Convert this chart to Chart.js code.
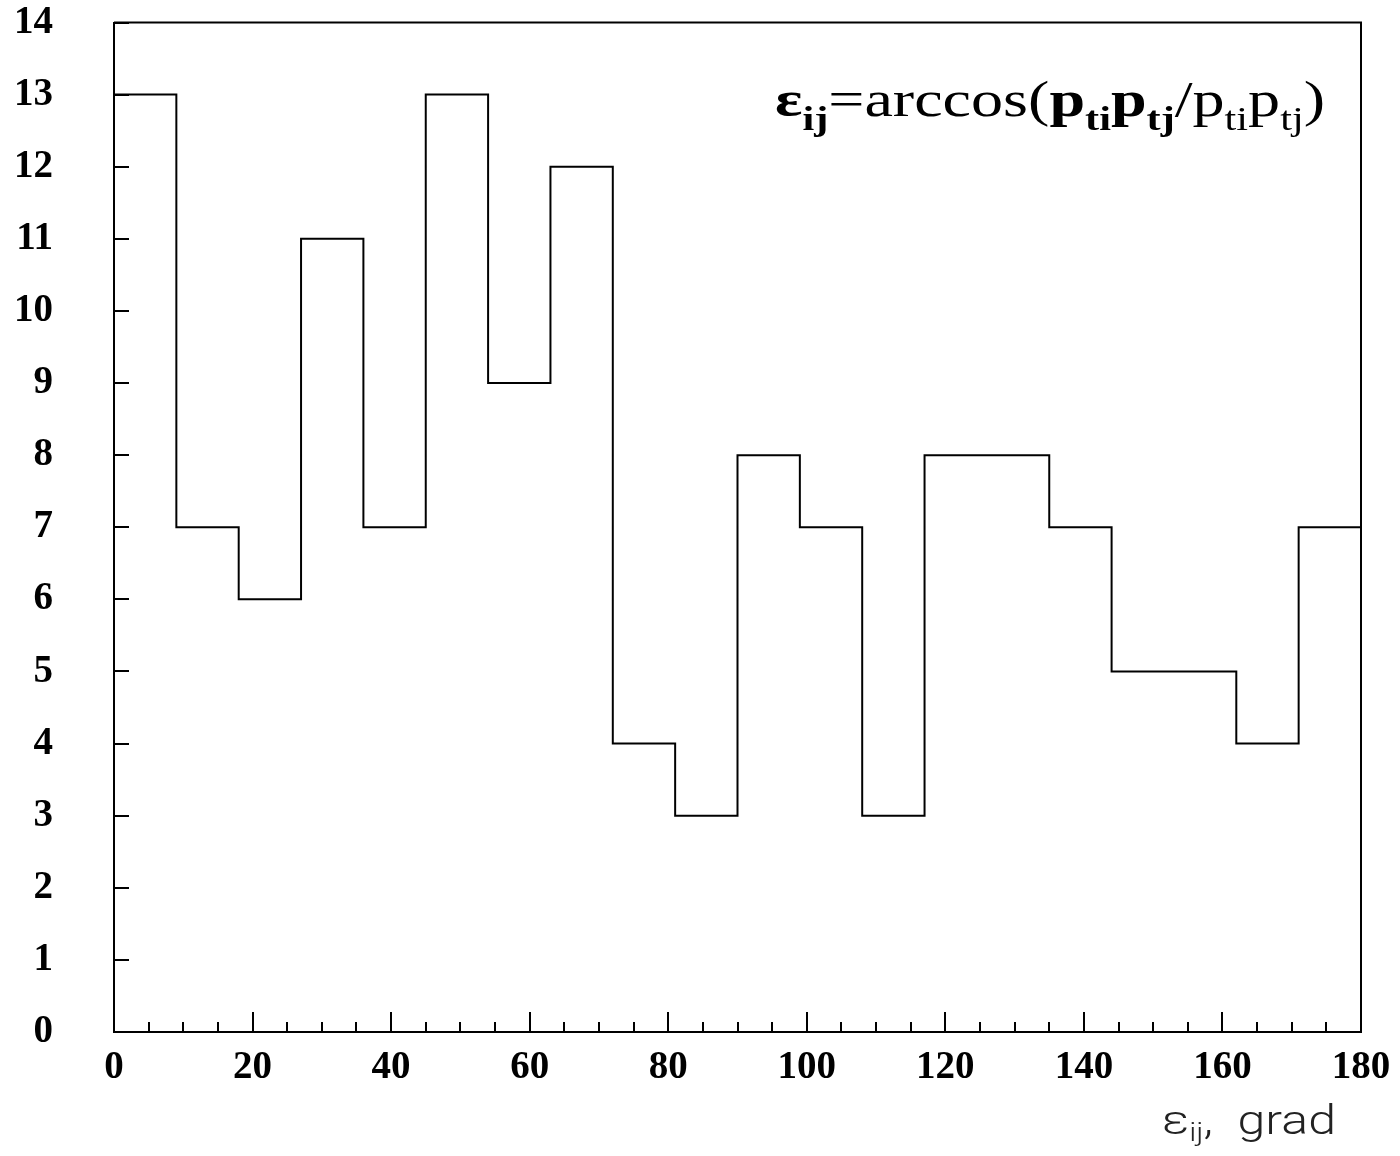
<!DOCTYPE html>
<html>
<head>
<meta charset="utf-8">
<script src="https://cdn.jsdelivr.net/npm/chart.js@4.4.1/dist/chart.umd.min.js"></script>
<style>
  html, body { margin: 0; padding: 0; background: #fff; }
  #wrap { width: 1400px; height: 1156px; }
</style>
</head>
<body>
<div id="wrap"><canvas id="hist"></canvas></div>
<script>
  // bin edges (degrees) and counts per bin
  const binEdges = [0, 9, 18, 27, 36, 45, 54, 63, 72, 81, 90, 99, 108, 117, 126, 135, 144, 153, 162, 171, 180];
  const binCounts = [13, 7, 6, 11, 7, 13, 9, 12, 4, 3, 8, 7, 3, 8, 8, 7, 5, 5, 4, 7];
  const xTickLabels = [0, 20, 40, 60, 80, 100, 120, 140, 160, 180];
  const yTickLabels = [0, 1, 2, 3, 4, 5, 6, 7, 8, 9, 10, 11, 12, 13, 14];

  const labelFont = { family: 'Liberation Serif', size: 39, weight: 'bold', lineHeight: 1.0 };

  // step points: last edge repeats the last count so the top of the final bin is drawn
  const stepPoints = binEdges.map((e, i) => ({ x: e, y: binCounts[Math.min(i, binCounts.length - 1)] }));

  // frame + inward ticks, the way the original plot has them
  const frameTicks = {
    id: 'frameTicks',
    afterDraw(chart) {
      const { ctx, chartArea: a, scales: { x, y } } = chart;
      ctx.save();
      ctx.strokeStyle = '#000';
      ctx.lineWidth = 2;
      ctx.beginPath();
      ctx.moveTo(a.left, a.top); ctx.lineTo(a.right, a.top); ctx.lineTo(a.right, a.bottom);
      for (let v = 0; v <= 180; v += 5) {
        const px = Math.round(x.getPixelForValue(v));
        const len = v % 20 === 0 ? 20 : 10;
        ctx.moveTo(px, a.bottom); ctx.lineTo(px, a.bottom - len);
      }
      yTickLabels.forEach(v => {
        const py = Math.round(y.getPixelForValue(v));
        ctx.moveTo(a.left, py); ctx.lineTo(a.left + 15, py);
      });
      ctx.stroke();
      ctx.restore();
    }
  };

  // text runs with subscripts, stretched horizontally to fill a given width
  function drawRuns(ctx, runs, x0, width, base, size, subSize, subDrop, family, weight) {
    const fontOf = r => (r.bold ? 'bold ' : weight + ' ') + (r.sub ? subSize : size) + 'px ' + family;
    let natural = 0;
    runs.forEach(r => { ctx.font = fontOf(r); natural += ctx.measureText(r.t).width; });
    const sx = width / natural;
    ctx.save();
    ctx.translate(x0, base);
    ctx.scale(sx, 1);
    let cx = 0;
    runs.forEach(r => {
      ctx.font = fontOf(r);
      ctx.fillText(r.t, cx, r.sub ? subDrop : 0);
      cx += ctx.measureText(r.t).width;
    });
    ctx.restore();
  }

  const annotations = {
    id: 'annotations',
    afterDraw(chart) {
      const ctx = chart.ctx;
      ctx.save();
      ctx.fillStyle = '#000';
      ctx.textBaseline = 'alphabetic';
      drawRuns(ctx, [
        { t: 'ε', bold: true }, { t: 'ij', bold: true, sub: true },
        { t: '=arccos(' },
        { t: 'p', bold: true }, { t: 'ti', bold: true, sub: true },
        { t: 'p', bold: true }, { t: 'tj', bold: true, sub: true },
        { t: '/p' }, { t: 'ti', sub: true },
        { t: 'p' }, { t: 'tj', sub: true },
        { t: ')' }
      ], 775, 550, 116, 50, 33, 14, '"Liberation Serif"', 'normal');

      ctx.fillStyle = '#222';
      drawRuns(ctx, [
        { t: 'ε' }, { t: 'ij', sub: true }, { t: ',  grad' }
      ], 1162, 174, 1134, 40, 25, 7, 'Roboto, "DejaVu Sans"', '300');
      ctx.restore();
    }
  };

  new Chart(document.getElementById('hist'), {
    type: 'line',
    data: {
      datasets: [{
        data: stepPoints,
        stepped: 'before',
        borderColor: '#000',
        borderWidth: 2,
        pointRadius: 0,
        fill: false
      }]
    },
    options: {
      responsive: true,
      maintainAspectRatio: false,
      animation: false,
      layout: { padding: { top: 22, right: 39, left: 0, bottom: 0 } },
      plugins: { legend: { display: false }, tooltip: { enabled: false } },
      scales: {
        x: {
          type: 'linear', min: 0, max: 180,
          afterFit: s => { s.height = 124; s.paddingLeft = 0; s.paddingRight = 39; },
          afterBuildTicks: s => { s.ticks = xTickLabels.map(v => ({ value: v })); },
          grid: { display: false, drawTicks: false },
          border: { display: true, color: '#000', width: 2 },
          ticks: { color: '#000', font: labelFont, padding: 16, maxRotation: 0, autoSkip: false }
        },
        y: {
          type: 'linear', min: 0, max: 14,
          afterFit: s => { s.width = 114; },
          afterBuildTicks: s => { s.ticks = yTickLabels.map(v => ({ value: v })); },
          grid: { display: false, drawTicks: true, tickLength: 58, tickColor: 'rgba(0,0,0,0)' },
          border: { display: true, color: '#000', width: 2 },
          ticks: { color: '#000', font: labelFont, padding: 3, autoSkip: false }
        }
      }
    },
    plugins: [frameTicks, annotations]
  });
</script>
</body>
</html>
